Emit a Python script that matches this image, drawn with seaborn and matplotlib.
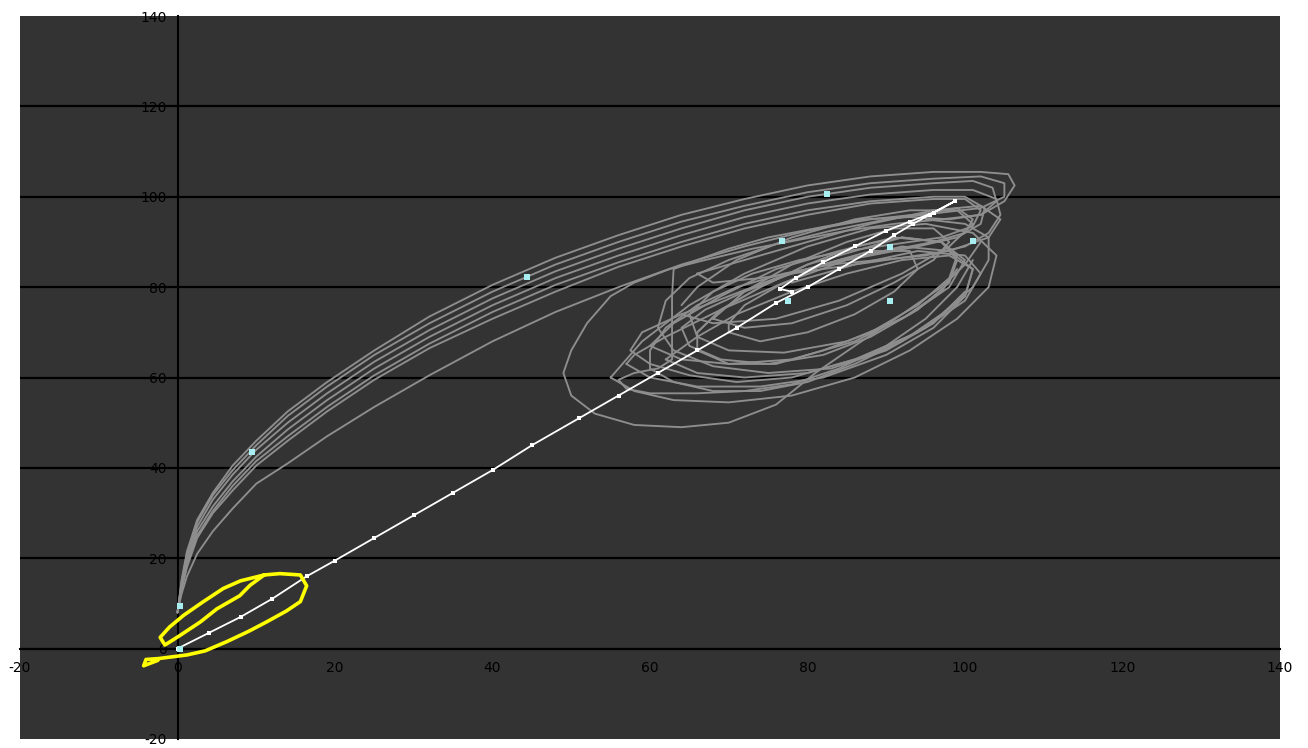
import matplotlib
matplotlib.use('Agg')
import matplotlib.pyplot as plt
import seaborn as sns
from matplotlib.ticker import FuncFormatter

# ---------------- data ----------------
band_x = [0, 0.5, 1.2, 2.5, 4.5, 7, 10, 14, 19, 25, 32, 40, 48, 56, 64, 72, 80, 88, 96]
strand1_y = [8, 15, 21.5, 28.5, 34.5, 40.5, 46, 52.5, 59, 66, 73.5, 80.5, 86.5, 91.5, 96, 99.5, 102.5, 104.5, 105.5]
strand2_y = [8, 14, 20, 27, 33, 38.5, 44, 50, 56.5, 63.5, 70.5, 77.5, 83.5, 88.5, 93, 97, 100, 102, 103]
strand3_y = [8, 13.5, 19, 26, 31.5, 37, 42.5, 48.5, 55, 62, 69, 76, 82, 87, 91.5, 95.5, 98.5, 100.5, 101.5]
strand4_y = [8, 13, 18.5, 25, 30.5, 36, 41.5, 47, 53.5, 60.5, 67.5, 74.5, 80.5, 85.5, 90, 94, 97, 99, 100]
strand5_y = [8, 12, 16, 21, 26, 31, 36.5, 41, 47, 53.5, 60.5, 68, 74.5, 80, 85, 89, 92.5, 95, 96.5]
strand6_y = [8, 14.5, 21, 28, 34, 39.5, 45, 51.5, 58, 65, 72, 79, 85, 90, 94.5, 98, 101, 103, 104]
strand7_y = [8, 13, 18, 24.5, 30, 35, 40.5, 46, 52.5, 59.5, 66.5, 73, 79, 84.5, 89, 93, 96, 98.5, 99.5]

tail1_x = [102, 105.5, 106.3, 105, 102, 97, 91, 85, 79, 73, 67, 62.5, 58, 55, 52, 50, 49, 50, 53, 58, 64, 70, 76, 81, 86, 92, 97, 100, 102]
tail1_y = [105.5, 105, 102.5, 99, 96, 95, 94, 92.5, 90.5, 88.5, 86, 84, 81, 78, 72, 66, 61, 56, 52, 49.5, 49, 50, 54, 61, 67, 74, 80, 85, 90]
tail2_x = [101, 103.5, 104, 102, 98, 93, 87, 81, 75, 70, 66, 63, 62.8, 62.8, 62.8, 61, 58, 56, 57, 60, 66, 72, 78, 84, 90, 95, 99, 101]
tail2_y = [103.5, 102, 99, 96, 95, 95.5, 95, 93, 91, 88.5, 86, 84, 78, 71, 64, 62, 61, 59.5, 57.5, 56.5, 56.5, 57, 58.5, 62, 67, 73, 80, 86]
tail3_x = [101, 104, 104.5, 103, 100, 95, 89, 83, 77, 71, 66, 62, 60, 60, 63, 68, 74, 80, 86, 92, 97, 101, 103, 103, 100, 95]
tail3_y = [101.5, 99.5, 96, 92, 89, 87, 86, 85, 83, 80, 76, 71, 66, 62, 59, 57, 57, 59, 63, 68, 74, 80, 86, 91, 94, 95]
tail4_x = [100, 102.5, 102, 99, 94, 88, 82, 76, 70, 64, 59, 57.5, 60, 65, 71, 78, 86, 94, 100, 102, 100, 94, 86, 78]
tail4_y = [100, 97.5, 94, 91, 89, 87, 85, 82, 78, 74, 70, 66, 63, 60.5, 59, 60, 64, 70, 77, 83, 87, 88, 85, 81]
tail5_x = [99, 101, 100, 96, 90, 84, 78, 72, 67, 64, 65, 69, 75, 82, 88, 94, 98, 99, 97, 92, 86, 80, 74, 69, 66]
tail5_y = [97.5, 95, 92, 90, 88, 86, 83, 79, 75, 71, 67, 64, 63, 65, 69, 75, 81, 86, 90, 91, 89, 85, 80, 75, 70]
tail6_x = [102, 105, 105, 102, 97, 90, 83, 76, 70, 65, 62, 61, 63, 68, 75, 83, 90, 96, 100]
tail6_y = [104.5, 103, 100, 97.5, 96.5, 95, 92.5, 89.5, 86, 82, 77, 71, 66, 62.5, 61, 62, 66, 72, 79]
tail7_x = [100, 102, 101, 97, 91, 85, 79, 73, 68, 65, 66, 70, 77, 85, 92, 97, 99]
tail7_y = [99.5, 97, 93.5, 91, 89.5, 88, 86, 83, 79, 74, 69, 66, 65.5, 68, 73, 79, 84]

loop2_x = [66, 70, 76, 82, 88, 94, 98, 99, 97, 92, 86, 80, 74, 69, 66, 66]
loop2_y = [66, 63, 63, 66, 70, 76, 82, 87, 90, 91, 88, 85, 80, 75, 70, 66]
loop3_x = [70, 74, 80, 86, 91, 94, 93, 88, 82, 76, 72, 70, 70]
loop3_y = [70, 68, 70, 74, 79, 84, 88, 88, 85, 80, 76, 72, 70]
loop5_x = [64, 68, 76, 84, 92, 98, 101, 99, 93, 86, 78, 71, 66, 64]
loop5_y = [74, 72, 73, 77, 83, 89, 94, 97, 97, 95, 91, 86, 80, 76]
loop6_x = [62, 66, 72, 80, 88, 95, 100, 101, 98, 92, 85, 78, 71, 66, 62]
loop6_y = [64, 61, 60, 61, 65, 71, 78, 84, 87, 86, 83, 79, 74, 69, 64]
loop7_x = [57, 60, 66, 74, 82, 90, 96, 100, 101, 98, 92, 85, 77, 69, 62, 58, 57]
loop7_y = [63, 60, 58, 58, 60, 65, 71, 78, 84, 88, 89, 86, 81, 75, 69, 65, 63]
loop8_x = [60, 64, 70, 78, 86, 93, 98, 100, 97, 91, 84, 76, 69, 63, 60]
loop8_y = [67, 64, 63, 64, 68, 74, 80, 86, 90, 91, 88, 84, 78, 72, 67]
loop9_x = [68, 72, 78, 85, 91, 96, 98, 96, 91, 85, 78, 72, 68]
loop9_y = [73, 71, 72, 76, 81, 86, 90, 93, 93, 90, 85, 79, 73]
loop10_x = [55, 58, 63, 70, 78, 86, 93, 99, 103, 104, 101, 95, 88, 80, 72, 65, 59, 55]
loop10_y = [60, 57, 55, 54.5, 56, 60, 66, 73, 80, 87, 92, 94, 93, 89, 83, 76, 68, 60]
loop11_x = [66, 72, 80, 88, 96, 102, 104.5, 103, 98, 90, 82, 74, 68, 66]
loop11_y = [83, 86, 90, 94, 97, 98, 95, 91, 88, 86, 84, 82, 81, 83]

white_x = [0, 4, 8, 12, 16.4, 20, 25, 30, 35, 40, 45, 51, 56, 61, 66, 71, 76, 80, 84, 88, 91, 93.4, 95.5, 98.7,
           96, 93, 90, 86, 82, 78.5, 76.5, 78]
white_y = [0, 3.5, 7, 11, 16, 19.5, 24.5, 29.5, 34.5, 39.5, 45, 51, 56, 61, 66, 71, 76.5, 80, 84, 88, 91.5, 94, 96, 99,
           96.5, 94.5, 92.5, 89, 85.5, 82, 79.6, 79]

yellow_x = [-2.5, -4.3, -4.0, -2.4, 1.2, 3.5, 6.2, 9, 11.3, 13.8, 15.6, 16.4, 15.6, 13, 11, 8, 5.8, 3.2, 0.8, -1,
            -2.2, -1.6, 0.3, 2.9, 5, 7.9, 9.2, 11]
yellow_y = [-2.6, -3.8, -2.4, -2.2, -1.4, -0.5, 1.5, 3.8, 5.9, 8.3, 10.4, 13.9, 16.3, 16.6, 16.3, 15, 13.3, 10.3, 7.4, 4.8,
            2.5, 0.8, 2.9, 5.9, 8.8, 11.7, 14, 16.3]

cyan_x = [0.3, 0.3, 9.4, 44.4, 82.5, 76.8, 90.5, 101, 77.5, 90.5]
cyan_y = [9.5, 0, 43.6, 82.2, 100.6, 90.3, 88.8, 90.3, 77, 77]

axis_ticks = [-20, 0, 20, 40, 60, 80, 100, 120, 140]

# ---------------- figure ----------------
sns.set_theme(style='white')
plt.rcParams['font.family'] = ['DejaVu Sans']

fig = plt.figure(figsize=(13.08, 7.48), dpi=100)
fig.patch.set_facecolor('white')
ax = fig.add_axes([20 / 1308, 1 - 739 / 748, 1260 / 1308, 723 / 748])
ax.set_facecolor('#333333')

gray_traces = [
    (band_x + tail1_x, strand1_y + tail1_y),
    (band_x + tail2_x, strand2_y + tail2_y),
    (band_x + tail3_x, strand3_y + tail3_y),
    (band_x + tail4_x, strand4_y + tail4_y),
    (band_x + tail5_x, strand5_y + tail5_y),
    (band_x + tail6_x, strand6_y + tail6_y),
    (band_x + tail7_x, strand7_y + tail7_y),
    (loop2_x, loop2_y),
    (loop3_x, loop3_y),
    (loop5_x, loop5_y),
    (loop6_x, loop6_y),
    (loop7_x, loop7_y),
    (loop8_x, loop8_y),
    (loop9_x, loop9_y),
    (loop10_x, loop10_y),
    (loop11_x, loop11_y),
]
for xs, ys in gray_traces:
    sns.lineplot(x=xs, y=ys, sort=False, estimator=None, color='#8e8e8e',
                 linewidth=1.35, ax=ax, zorder=3)

sns.lineplot(x=white_x, y=white_y, sort=False, estimator=None, color='white',
             linewidth=1.3, marker='s', markersize=2.2, markeredgewidth=0, ax=ax, zorder=4)
sns.lineplot(x=yellow_x, y=yellow_y, sort=False, estimator=None, color='#ffff00',
             linewidth=2.6, ax=ax, zorder=5)
sns.scatterplot(x=cyan_x, y=cyan_y, color='#a8eef0', marker='s', s=14,
                linewidth=0, ax=ax, zorder=6)

ax.set_xlim(-20, 140)
ax.set_ylim(-20, 140)
ax.set_xticks(axis_ticks)
ax.set_yticks(axis_ticks)
fmt = FuncFormatter(lambda v, _: str(int(v)))
ax.xaxis.set_major_formatter(fmt)
ax.yaxis.set_major_formatter(fmt)

for side in ['top', 'right']:
    ax.spines[side].set_visible(False)
ax.spines['left'].set_position(('data', 0))
ax.spines['bottom'].set_position(('data', 0))
for side in ['left', 'bottom']:
    ax.spines[side].set_color('black')
    ax.spines[side].set_linewidth(1.5)
    ax.spines[side].set_zorder(2)

ax.set_axisbelow(True)
ax.yaxis.grid(True, color='black', linewidth=1.6)
ax.xaxis.grid(False)
gl = ax.yaxis.get_gridlines()
gl[0].set_visible(False)
gl[-1].set_visible(False)

ax.tick_params(axis='both', direction='out', length=4, width=1, color='black',
               labelcolor='black', labelsize=10)
ax.tick_params(axis='y', pad=4)
ax.tick_params(axis='x', pad=5)
ax.set_xlabel('')
ax.set_ylabel('')
if ax.get_legend():
    ax.get_legend().remove()

fig.savefig('out.png', dpi=100, facecolor='white')
